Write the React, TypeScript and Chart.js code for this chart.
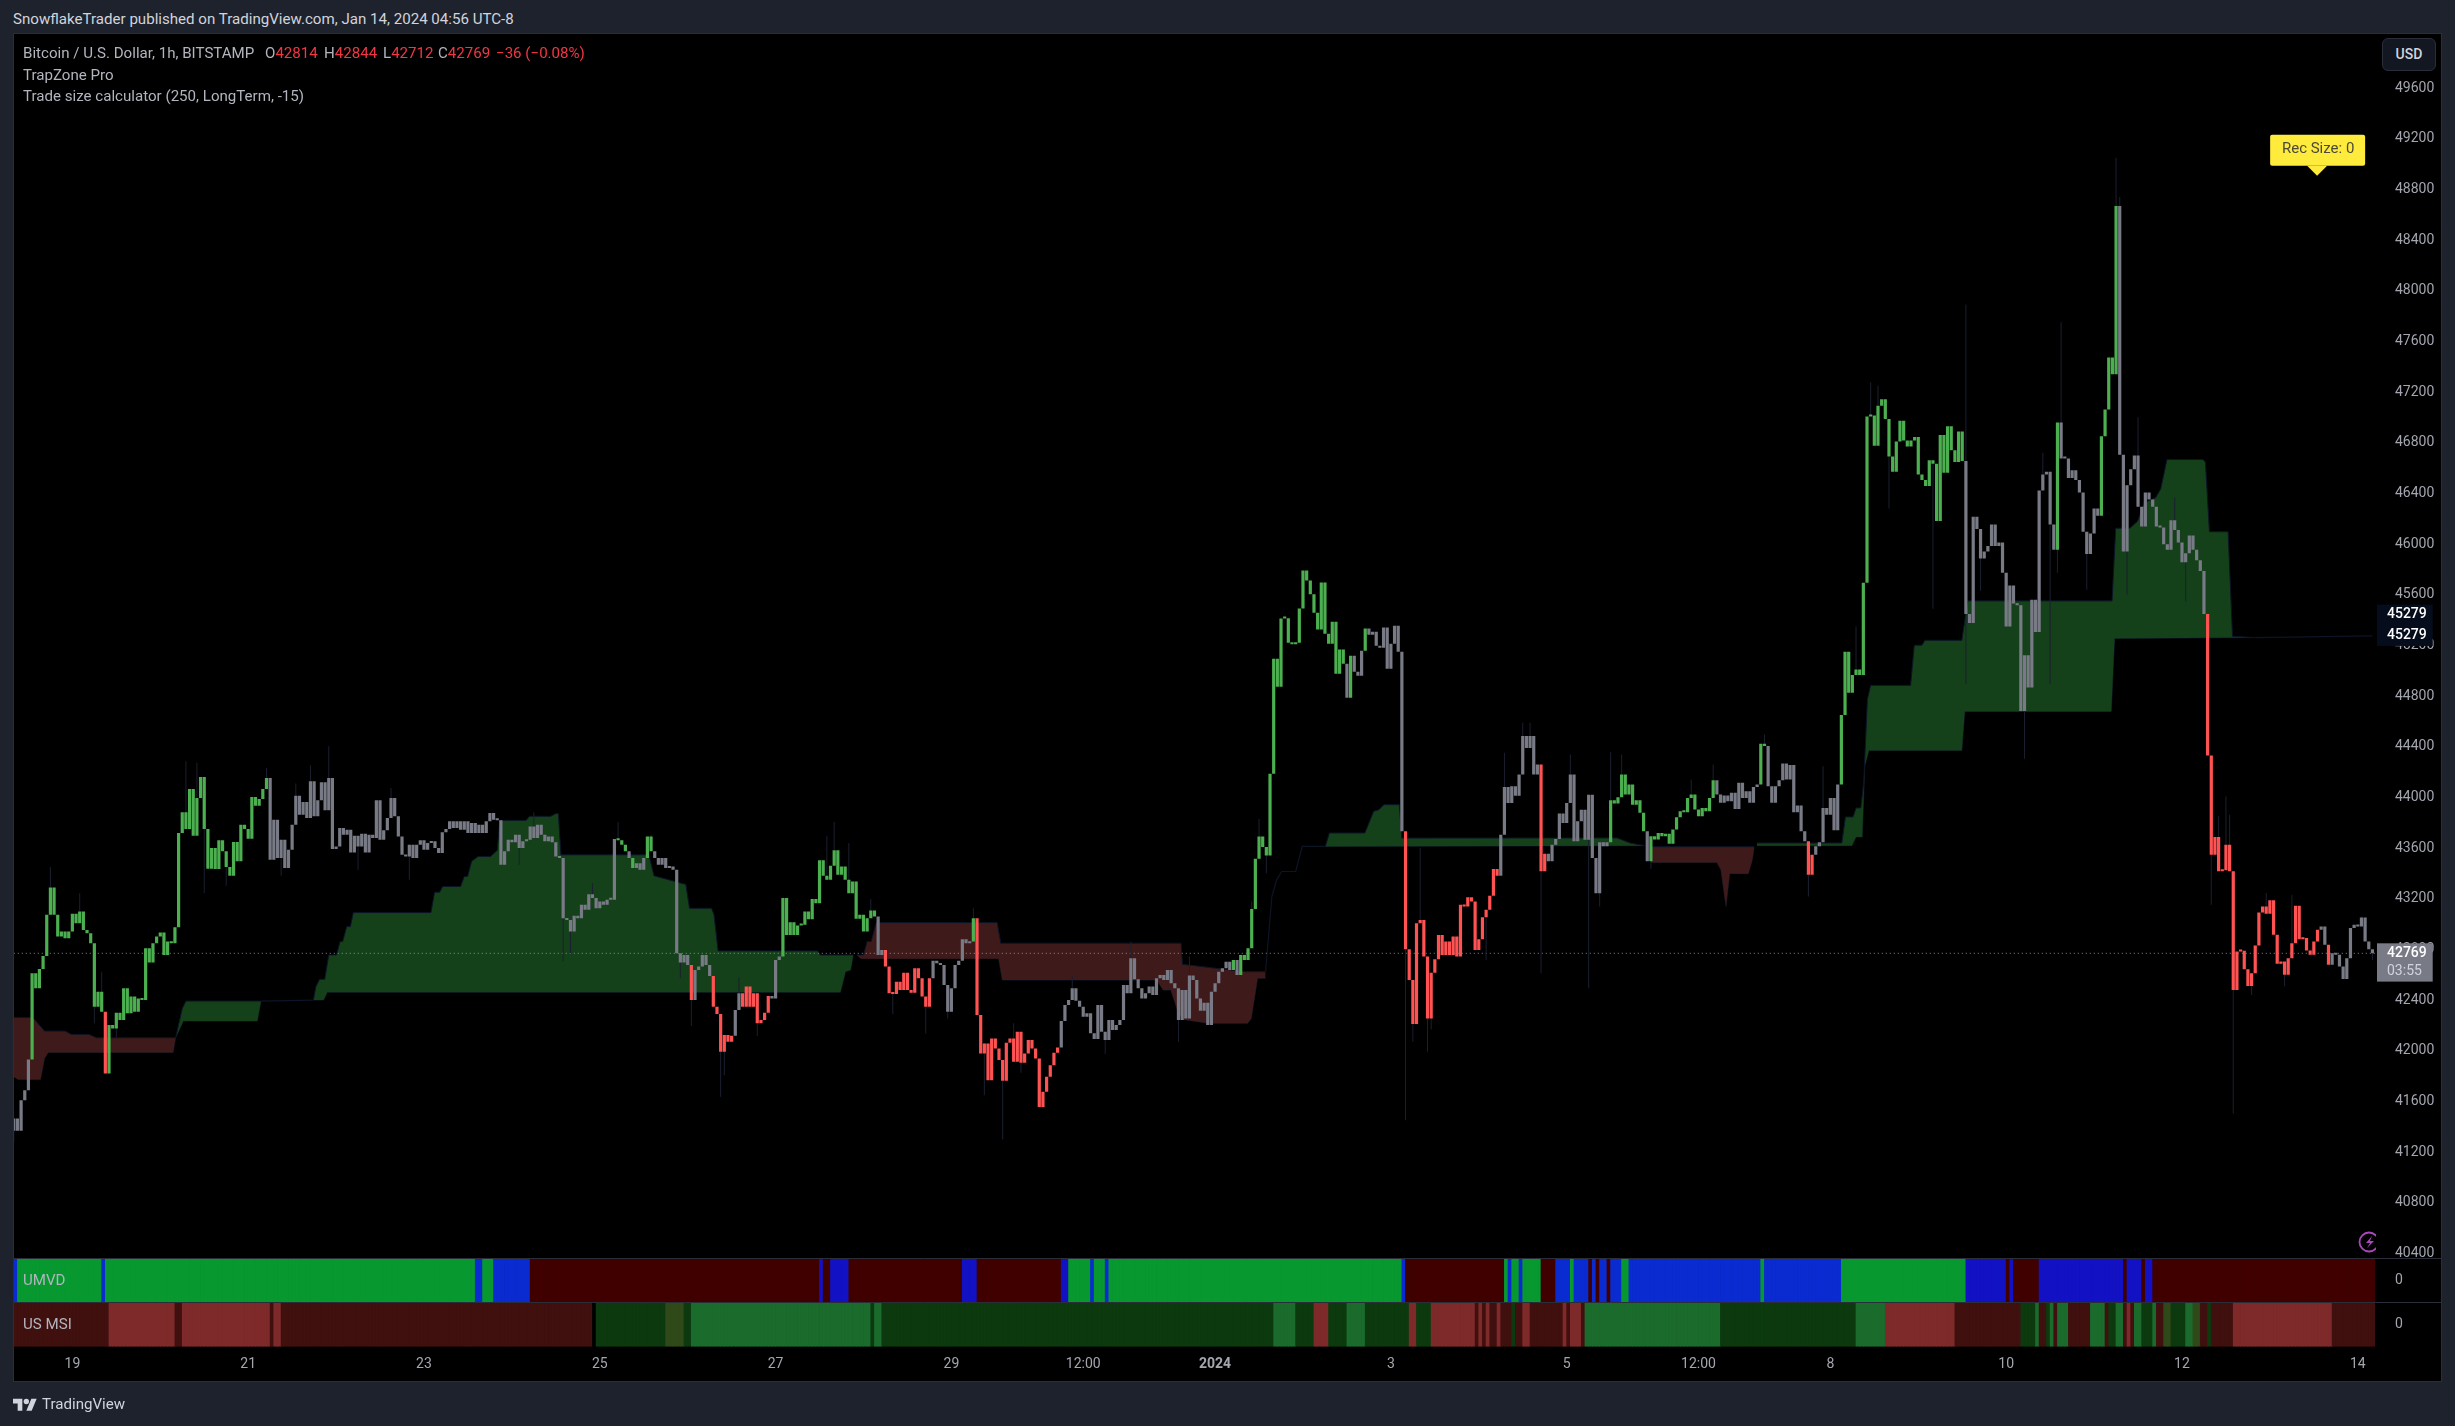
import React, { useEffect, useRef } from "react";
import { Chart, registerables } from "chart.js";

Chart.register(...registerables);

const FONT = "Roboto, 'Liberation Sans', sans-serif";

// Hours counted from 19 Dec 00:00. The first visible candle sits at hour -16.
const firstHour = -16;
const firstOpen = 41367;

const closes = [
  41464,41367,41609,41688,41931,42611,42493,42646,42748,43073,
  43289,43073,42901,42941,42888,42941,43081,43007,43099,42954,
  42928,42849,42347,42466,42308,41820,42203,42176,42300,42242,
  42493,42295,42427,42308,42413,42400,42809,42696,42849,42901,
  42933,42756,42862,42849,42975,43719,43882,43750,44067,43698,
  43996,44162,43750,43437,43600,43434,43661,43574,43450,43381,
  43648,43495,43785,43750,43674,44004,43935,43988,44067,44154,
  43508,43824,43521,43666,43442,43587,43785,44014,43864,43964,
  43837,44128,43851,43977,44120,43898,44154,43592,43613,43758,
  43706,43745,43566,43698,43613,43714,43566,43706,43679,43977,
  43666,43740,43837,43996,43851,43692,43547,43534,43626,43521,
  43626,43661,43587,43640,43653,43600,43561,43724,43750,43811,
  43758,43811,43745,43811,43719,43798,43719,43785,43719,43811,
  43877,43824,43819,43468,43574,43666,43645,43706,43600,43653,
  43666,43771,43679,43785,43706,43653,43692,43645,43534,43521,
  43046,43033,42941,43065,43046,43152,43112,43236,43205,43125,
  43178,43152,43191,43191,43671,43661,43626,43574,43521,43442,
  43481,43429,43521,43692,43574,43521,43468,43521,43442,43455,
  43429,42769,42696,42756,42677,42400,42638,42664,42756,42677,
  42590,42347,42289,41992,42123,42071,42118,42321,42453,42347,
  42506,42347,42453,42216,42242,42300,42432,42413,42717,42743,
  43205,42914,43015,42914,42988,42994,43099,43038,43197,43165,
  43503,43381,43350,43460,43582,43389,43455,43350,43244,43336,
  43041,43073,42941,43046,43107,43060,42756,42796,42664,42453,
  42448,42545,42479,42616,42479,42458,42651,42572,42427,42347,
  42572,42711,42690,42677,42519,42308,42493,42677,42711,42880,
  42849,42862,43046,42282,41978,42057,41767,42097,42018,41926,
  41762,42063,42097,41912,42150,41905,41978,42084,42018,41939,
  41556,41675,41794,41886,41984,42026,42234,42361,42400,42493,
  42395,42347,42268,42295,42137,42092,42361,42150,42084,42242,
  42163,42203,42242,42519,42453,42730,42564,42493,42413,42453,
  42506,42440,42572,42598,42558,42638,42532,42493,42242,42479,
  42255,42593,42558,42413,42316,42379,42203,42466,42532,42624,
  42651,42703,42638,42717,42598,42756,42717,42809,43118,43516,
  43692,43608,43542,44186,45095,44874,45412,45415,45222,45209,
  45222,45491,45792,45712,45604,45459,45325,45697,45293,45214,
  45388,44977,45167,45056,44787,45119,44993,44961,45159,45333,
  45285,45309,45198,45182,45341,45016,45214,45356,45151,43732,
  42801,42558,42210,43007,43033,42743,42255,42616,42722,42914,
  42756,42862,42756,42901,42743,43152,43139,43212,43178,42796,
  42880,43054,43112,43223,43434,43381,43706,44083,43956,44088,
  44014,44180,44484,44391,44484,44180,44259,43416,43555,43495,
  43626,43671,43872,43798,43956,44180,43653,43811,43903,43666,
  44022,43521,43244,43645,43614,43645,43978,43951,44001,44181,
  44023,44102,43943,43978,43878,43733,43495,43693,43667,43719,
  43693,43714,43635,43746,43843,43891,43883,43996,44023,43904,
  43851,43917,43891,43996,44136,44023,43957,44015,43970,44036,
  43909,44115,43996,44049,43957,44083,44102,44423,44405,44089,
  43957,44089,44136,44268,44141,44255,43883,43936,43733,43653,
  43390,43548,43614,43645,43917,43864,43996,43740,44102,44650,
  45151,44826,44967,45010,44967,45696,47008,47016,46776,47092,
  47143,46988,46691,46572,46810,46974,46818,46770,46818,46846,
  46550,46507,46459,46663,46635,46182,46861,46564,46931,46742,
  46649,46889,46657,45448,45377,46216,46120,45886,45942,45985,
  46154,45985,46013,45773,45349,45674,45532,45518,44682,45122,
  44868,45561,45306,46423,46550,46572,46154,45956,46960,46677,
  46677,46522,46584,46507,46408,46098,45922,46083,46281,46225,
  46852,47064,47474,47341,48669,46705,45942,46465,46592,46700,
  46295,46140,46408,46352,46295,46140,46132,45999,45956,46188,
  46112,46013,45857,45928,46069,45956,45872,45787,45448,44331,
  43548,43688,43416,43424,43627,43416,42480,42783,42790,42643,
  42511,42612,42831,43092,43139,43081,43187,42915,42686,42704,
  42599,42730,42849,43144,42881,42889,42791,42757,42862,42955,
  42981,42836,42678,42770,42757,42664,42567,42730,42968,42994,
  42981,43052,42862,42802,42769,
];

// candle colour state: n neutral, g green, r red
const candleRuns: [string, number][] = [
  ["n",5],["g",20],["r",1],["g",44],["n",95],["g",3],["n",1],["g",1],["n",3],["g",2],
  ["n",10],["r",1],["n",5],["r",6],["n",2],["r",8],["n",3],["g",26],["n",2],["r",13],
  ["n",11],["g",1],["r",23],["n",47],["g",1],["n",1],["g",29],["n",1],["g",1],["n",3],
  ["g",1],["n",10],["r",26],["n",11],["r",2],["n",17],["g",10],["n",1],["g",18],["n",12],
  ["g",2],["n",11],["r",2],["n",7],["g",34],["n",25],["g",1],["n",11],["g",5],["n",24],
  ["r",31],["n",2],["r",1],["n",12],
];

// wicks: candle number and the price its shadow reaches
const wickBars = [
  10,47,50,52,58,69,73,77,81,86,94,103,108,138,142,150,152,158,165,174,182,185,193,194,198,203,0,4,28,18,22,24,
  224,222,228,234,240,249,255,262,265,270,273,275,289,298,305,318,321,338,340,342,380,384,382,386,387,402,412,414,407,417,425,430,433,
  533,533,559,574,575,524,507,509,512,556,554,580,590,593,577,566,558,537,503,
  436,439,478,447,490,494,464,458,549,606,604,602,600,605,622,615,620,611,641,644,
];
const wickEnds = [
  43450,44286,44273,43244,43302,44233,43381,44109,44254,44404,43429,44075,43350,43468,43882,42704,42769,43323,43806,43706,42572,42195,41636,41807,42580,42116,41280,41701,42105,43244,42216,42624,
  43806,43698,43640,43197,42289,42136,42255,43125,41649,41298,42216,41825,42593,41973,42862,42071,42743,43178,43830,43402,41451,43600,42071,41991,42168,42717,44589,44589,44352,42611,44338,42493,43139,
  47892,44897,47751,49051,48740,45490,47279,47248,46281,44897,46719,47002,46366,45547,45603,45640,45773,45631,45349,
  44357,44339,44497,43435,43218,44247,44260,44141,44305,41504,44009,43851,43152,43864,43231,43245,42506,42440,43060,42717,
];

// TrapZone bands
const redOneTopHours = [-16,-10.8,-7.6,-2,-0.3,4.5,6.6,28.2];
const redOneTopPrices = [42263,42263,42155,42155,42129,42129,42102,42102];
const redOneBotHours = [-16,-14.8,-8.7,-7.6,-6.6,27.5,28.2];
const redOneBotPrices = [41794,41773,41773,41939,41986,41986,42102];

const greenOneTopHours = [28.2,30,31,51.5];
const greenOneTopPrices = [42102,42334,42392,42392];
const greenOneBotHours = [28.2,30.3,50.5,51.5];
const greenOneBotPrices = [42102,42234,42234,42392];

const greenTwoTopHours = [65.8,66.5,67.5,68.9,70,72.1,73.1,73.8,74.9,75.9,76.7,97.9,98.9,100.3,101.1,106,107,107.9,109,110.8,114.2,116,116.7,123.9,124.8,130.6,132,132.7,133.4,157.4,158.8,167.5,168.5,174.5,175.2,176.3,203.5,204.2,213.2];
const greenTwoTopPrices = [42400,42506,42564,42564,42756,42756,42862,42862,42980,42980,43091,43091,43252,43252,43297,43297,43376,43376,43495,43534,43534,43582,43819,43819,43851,43851,43872,43872,43547,43547,43381,43313,43125,43125,43073,42788,42788,42756,42756];
const greenTwoBotHours = [65.8,68.6,69.6,209.7,211.1,212.5,213.2];
const greenTwoBotPrices = [42400,42400,42461,42461,42624,42637,42756];

const redTwoTopHours = [214.2,216,217,218.1,219.5,252.5,253.5,302.7,303.1,320.2,325.8];
const redTwoTopPrices = [42756,42756,42862,42862,43012,43012,42849,42849,42682,42624,42624];
const redTwoBotHours = [214.2,215.3,252.9,253.9,296.1,297.8,299.9,301.7,303.1,307.3,310,320.9,321.9,323.6,325.8];
const redTwoBotPrices = [42756,42727,42727,42558,42558,42479,42479,42321,42247,42229,42216,42216,42255,42572,42572];

const greenThreeTopHours = [342.1,343.2,352.9,355.3,356.7,358.1,362.3,363,421.8,425.3,429.2];
const greenThreeTopPrices = [43613,43719,43719,43890,43903,43943,43943,43679,43680,43640,43619];
const greenThreeBotHours = [342.1,429.2];
const greenThreeBotPrices = [43613,43619];

const redThreeTopHours = [430.9,459.2];
const redThreeTopPrices = [43611,43611];
const redThreeBotHours = [430.9,449,450.1,451.5,452.5,457.6,458.7,459.2];
const redThreeBotPrices = [43487,43487,43429,43139,43398,43398,43508,43611];

const greenFourTopHours = [459.9,483.1,483.5,484.1,486.2,487,488.3,489.1,490.1,491,501.9,502.9,505,505.8,515.9,517.5,556.9,557.9,561.8,563.9,565.7,568.8,570.2,571.9,581.7,582.4,583.5,588.6,589.8,595.9];
const greenFourTopPrices = [43640,43640,43719,43846,43846,43917,43917,44115,44774,44885,44885,45202,45202,45241,45241,45552,45552,46126,46126,46182,46329,46366,46437,46668,46668,46649,46098,46098,45272,45262];
const greenFourBotHours = [459.9,485.9,487,488.7,489.4,490.5,515.9,516.7,556.7,557.6,595.9];
const greenFourBotPrices = [43619,43619,43688,43688,44247,44371,44371,44679,44679,45255,45262];

// thin navy traces where a band has collapsed to a line
const traceOneHours = [51.5,65.8];
const traceOnePrices = [42392,42400];
const traceTwoHours = [325.8,327.5,328.8,330.2,334,335.8,342.1];
const traceTwoPrices = [42624,43217,43349,43415,43415,43613,43613];
const traceThreeHours = [595.9,628];
const traceThreePrices = [45262,45275];

const lastPrice = 42769;
const trapLevel = 45279;
const recSizeHour = 612.9;
const recSizePrice = 48909;

const priceTicks = [40400,40800,41200,41600,42000,42400,42800,43200,43600,44000,44400,44800,45200,45600,46000,46400,46800,47200,47600,48000,48400,48800,49200,49600];
const timeTickHours = [0,48,96,144,192,240,276,312,360,408,444,480,528,576,624];
const timeTickLabels = ["19","21","23","25","27","29","12:00","2024","3","5","12:00","8","10","12","14"];

// UMVD strip: g green, b blue, B deep blue, d dark red
const umvdRuns: [string, number][] = [
  ["b",1],["g",23],["b",1],["g",101],["b",2],["g",3],["b",10],["d",79],["B",1],["d",2],["B",5],["d",31],["B",4],["d",23],["B",2],
  ["g",6],["b",1],["g",3],["b",1],["g",80],["b",1],["d",27],["g",1],["b",1],["g",2],["b",1],["g",5],["d",4],["b",4],["g",1],["b",4],
  ["d",1],["b",1],["d",1],["b",2],["d",1],["b",3],["g",2],["b",36],["g",1],["b",21],["g",34],["B",11],["d",1],["B",1],["d",7],["B",23],
  ["d",1],["B",4],["d",1],["B",2],["d",62],
];
// US MSI strip: r dark red, L light red, k black, D dark green, M mid green, o olive
const msiRuns: [string, number][] = [
  ["r",26],["L",18],["r",2],["L",24],["r",1],["L",2],["r",85],["k",1],["D",19],["o",5],["D",2],["M",49],["D",1],["M",2],["D",107],["M",6],
  ["D",5],["L",4],["D",5],["M",5],["D",12],["L",2],["D",4],["L",12],["r",1],["L",1],["r",1],["L",1],["r",2],["L",1],["r",3],["D",1],["r",2],
  ["L",2],["r",9],["L",1],["r",1],["L",3],["r",1],["M",37],["D",37],["M",8],["L",19],["r",18],["D",4],["M",1],["r",2],["D",1],["M",1],["r",1],
  ["M",3],["r",6],["M",4],["r",1],["D",2],["M",2],["r",1],["L",1],["r",1],["M",2],["D",3],["M",1],["r",2],["o",2],["D",4],["M",2],["o",2],
  ["r",2],["D",1],["r",6],["L",27],["r",14],
];

const candleColors: Record<string, string> = { n: "#787b86", g: "#4caf50", r: "#ff5252" };
const umvdColors: Record<string, string> = { g: "#089830", b: "#0a2bd0", B: "#1212c4", d: "#400000" };
const msiColors: Record<string, string> = { r: "#40100e", L: "#7f2a2a", k: "#000000", D: "#0c3a0e", M: "#1a6b2c", o: "#2f4a18" };

const GREEN_BAND = "#14401a";
const RED_BAND = "#3f1a1a";
const TRACE = "#0c1426";

const expand = (runs: [string, number][]) => runs.flatMap(([s, n]) => Array(n).fill(s) as string[]);
const pts = (xs: number[], ys: number[]) => xs.map((x, i) => ({ x, y: ys[i] }));

const bands = [
  { c: RED_BAND, t: pts(redOneTopHours, redOneTopPrices), b: pts(redOneBotHours, redOneBotPrices) },
  { c: GREEN_BAND, t: pts(greenOneTopHours, greenOneTopPrices), b: pts(greenOneBotHours, greenOneBotPrices) },
  { c: GREEN_BAND, t: pts(greenTwoTopHours, greenTwoTopPrices), b: pts(greenTwoBotHours, greenTwoBotPrices) },
  { c: RED_BAND, t: pts(redTwoTopHours, redTwoTopPrices), b: pts(redTwoBotHours, redTwoBotPrices) },
  { c: GREEN_BAND, t: pts(greenThreeTopHours, greenThreeTopPrices), b: pts(greenThreeBotHours, greenThreeBotPrices) },
  { c: RED_BAND, t: pts(redThreeTopHours, redThreeTopPrices), b: pts(redThreeBotHours, redThreeBotPrices) },
  { c: GREEN_BAND, t: pts(greenFourTopHours, greenFourTopPrices), b: pts(greenFourBotHours, greenFourBotPrices) },
];

function buildDatasets() {
  const sets: any[] = [];
  bands.forEach((band, i) => {
    const base = { type: "line", xAxisID: "x", yAxisID: "price", pointRadius: 0, borderWidth: 1, borderColor: TRACE, tension: 0, order: 5 };
    sets.push({ ...base, data: band.t, fill: { target: i * 2 + 1, above: band.c, below: band.c } });
    sets.push({ ...base, data: band.b, fill: false });
  });
  [pts(traceOneHours, traceOnePrices), pts(traceTwoHours, traceTwoPrices), pts(traceThreeHours, traceThreePrices)].forEach((data) => {
    sets.push({ type: "line", xAxisID: "x", yAxisID: "price", pointRadius: 0, borderWidth: 1.2, borderColor: TRACE, tension: 0, order: 4, data, fill: false });
  });
  sets.push({
    type: "line", xAxisID: "x", yAxisID: "price", pointRadius: 0, borderWidth: 1, order: 3, fill: false,
    borderColor: "rgba(178,181,190,0.75)", borderDash: [1, 3],
    data: [{ x: firstHour, y: lastPrice }, { x: 640, y: lastPrice }],
  });
  sets.push({
    type: "bar", xAxisID: "x", yAxisID: "price", grouped: false, order: 2, barPercentage: 5, maxBarThickness: 1,
    backgroundColor: "#1b2030",
    data: wickBars.map((k, i) => ({ x: firstHour + k, y: [closes[k], wickEnds[i]] })),
  });
  const states = expand(candleRuns);
  sets.push({
    type: "bar", xAxisID: "x", yAxisID: "price", grouped: false, order: 1, barPercentage: 5, maxBarThickness: 3.2, minBarLength: 2,
    backgroundColor: states.map((s) => candleColors[s]),
    data: closes.map((c, i) => ({ x: firstHour + i, y: [i ? closes[i - 1] : firstOpen, c] })),
  });
  const strip = (runs: [string, number][], colors: Record<string, string>, axis: string) => {
    const st = expand(runs);
    sets.push({
      type: "bar", xAxisID: "x", yAxisID: axis, grouped: false, order: 1, barPercentage: 5, maxBarThickness: 4.4,
      backgroundColor: st.map((s) => colors[s]),
      data: st.map((_, i) => ({ x: firstHour + 0.5 + i, y: [-1, 1] })),
    });
  };
  strip(umvdRuns, umvdColors, "umvd");
  strip(msiRuns, msiColors, "msi");
  return sets;
}

const panelPlugin = {
  id: "panelPlugin",
  afterDraw(chart: any) {
    const { ctx, scales, chartArea } = chart;
    const price = scales.price;
    const right = chartArea.right;
    const textX = right + 12;
    ctx.save();
    // pane separators
    ctx.strokeStyle = "#2a2e39";
    ctx.lineWidth = 1;
    [scales.umvd.top, scales.msi.top].forEach((y: number) => {
      ctx.beginPath();
      ctx.moveTo(0, Math.round(y) + 0.5);
      ctx.lineTo(chart.width, Math.round(y) + 0.5);
      ctx.stroke();
    });
    ctx.textBaseline = "middle";
    ctx.textAlign = "left";
    // band level tags
    const lvl = price.getPixelForValue(trapLevel);
    ctx.fillStyle = "#050c1c";
    ctx.fillRect(right + 2, lvl - 30.8, 55.7, 41.3);
    ctx.fillStyle = "#ffffff";
    ctx.font = `500 14px ${FONT}`;
    ctx.fillText(String(trapLevel), textX, lvl - 21);
    ctx.fillText(String(trapLevel), textX, lvl);
    // last price tag
    const last = price.getPixelForValue(lastPrice);
    ctx.fillStyle = "#787b86";
    ctx.fillRect(right + 2, last - 10, 55.7, 38.3);
    ctx.fillStyle = "#ffffff";
    ctx.fillText(String(lastPrice), textX, last);
    ctx.fillStyle = "#d1d4dc";
    ctx.font = `14px ${FONT}`;
    ctx.fillText("03:55", textX, last + 18);
    // Rec Size callout
    const tipX = scales.x.getPixelForValue(recSizeHour);
    const tipY = price.getPixelForValue(recSizePrice);
    ctx.fillStyle = "#ffeb3b";
    ctx.beginPath();
    ctx.roundRect(tipX - 47, tipY - 41, 95, 31, 2);
    ctx.fill();
    ctx.beginPath();
    ctx.moveTo(tipX - 10, tipY - 10);
    ctx.lineTo(tipX, tipY);
    ctx.lineTo(tipX + 10, tipY - 10);
    ctx.closePath();
    ctx.fill();
    ctx.fillStyle = "#4a4a3a";
    ctx.textAlign = "center";
    ctx.font = `15px ${FONT}`;
    ctx.fillText("Rec Size: 0", tipX + 1, tipY - 26);
    ctx.restore();
  },
};

const absText = (left: number, top: number, color: string): React.CSSProperties => ({
  position: "absolute", left, top, color, font: `15.1px ${FONT}`, lineHeight: "18px", whiteSpace: "nowrap",
});

const LEGEND = "#b2b5be";
const RED = "#f23645";

export default function App() {
  const ref = useRef<HTMLCanvasElement>(null);
  useEffect(() => {
    const yCommon = { position: "right", stack: "panes", border: { display: false }, grid: { display: false }, afterFit: (s: any) => { s.width = 67; } };
    const plainTick = (v: any) => String(v);
    const zeroTicks = {
      ...yCommon, min: -1, max: 1,
      afterBuildTicks: (s: any) => { s.ticks = [{ value: 0 }]; },
      ticks: { color: "#a3a6af", font: { family: FONT, size: 14 }, padding: 12, crossAlign: "near", callback: plainTick },
    };
    const chart = new Chart(ref.current as HTMLCanvasElement, {
      type: "bar",
      data: { datasets: buildDatasets() },
      options: {
        animation: false,
        responsive: false,
        devicePixelRatio: 1,
        layout: { padding: 0, autoPadding: false },
        plugins: { legend: { display: false }, tooltip: { enabled: false } },
        scales: {
          x: {
            type: "linear", position: "bottom", min: -15.94, max: 628.7, offset: false,
            border: { display: false }, grid: { display: false, offset: false },
            afterBuildTicks: (s: any) => { s.ticks = timeTickHours.map((value) => ({ value })); },
            afterFit: (s: any) => { s.height = 34.3; },
            ticks: {
              autoSkip: false, maxRotation: 0, padding: 1, color: "#a3a6af",
              callback: (_: any, i: number) => timeTickLabels[i],
              font: (c: any) => ({ family: FONT, size: 14, weight: timeTickLabels[c.index] === "2024" ? "bold" : "normal" }),
            },
          },
          price: {
            ...yCommon, type: "linear", min: 40360, max: 50017, stackWeight: 1224.3,
            afterBuildTicks: (s: any) => { s.ticks = priceTicks.map((value) => ({ value })); },
            ticks: { color: "#a3a6af", font: { family: FONT, size: 14 }, padding: 12, crossAlign: "near", callback: plainTick },
          },
          umvd: { ...zeroTicks, type: "linear", stackWeight: 43.8 },
          msi: { ...zeroTicks, type: "linear", stackWeight: 44.6 },
        },
      } as any,
      plugins: [panelPlugin],
    } as any);
    return () => chart.destroy();
  }, []);

  return (
    <div style={{ position: "fixed", left: 0, top: 0, width: 2455, height: 1426, background: "#1e222d", overflow: "hidden" }}>
      <div style={absText(13, 10, "#d1d4dc")}>SnowflakeTrader published on TradingView.com, Jan 14, 2024 04:56 UTC-8</div>
      <div style={{ position: "absolute", left: 13, top: 33, width: 2429, height: 1349, background: "#000", boxSizing: "border-box", border: "1px solid #2a2e39" }} />
      <canvas ref={ref} width={2428} height={1366} style={{ position: "absolute", left: 14, top: 15, width: 2428, height: 1366, clipPath: "inset(19px 0 0 0)" }} />

      <div style={absText(23, 44, LEGEND)}>Bitcoin / U.S. Dollar, 1h, BITSTAMP</div>
      <div style={absText(265, 44, LEGEND)}>O<span style={{ color: RED }}>42814</span></div>
      <div style={absText(324, 44, LEGEND)}>H<span style={{ color: RED }}>42844</span></div>
      <div style={absText(383, 44, LEGEND)}>L<span style={{ color: RED }}>42712</span></div>
      <div style={absText(438, 44, LEGEND)}>C<span style={{ color: RED }}>42769</span></div>
      <div style={absText(496, 44, RED)}>−36 (−0.08%)</div>
      <div style={absText(23, 66, LEGEND)}>TrapZone Pro</div>
      <div style={absText(23, 87, LEGEND)}>Trade size calculator (250, LongTerm, -15)</div>

      <div style={{ position: "absolute", left: 2382, top: 38, width: 54, height: 33, boxSizing: "border-box", background: "#131722", border: "1px solid #2a2e39", borderRadius: 6, color: "#d1d4dc", font: `500 14px ${FONT}`, lineHeight: "31px", textAlign: "center" }}>USD</div>

      <div style={absText(23, 1271, "#b2b5be")}>UMVD</div>
      <div style={absText(23, 1315, "#b2b5be")}>US MSI</div>

      <div style={{ position: "absolute", left: 2357, top: 1229, width: 19, height: 26, overflow: "hidden" }}>
        <svg width="26" height="26" viewBox="0 0 26 26">
          <circle cx="12" cy="13" r="9.5" fill="none" stroke="#ab47bc" strokeWidth="1.8" />
          <path d="M15 7 L9 14 L13 14 L10 19 L17 12 L13 12 Z" fill="#ab47bc" />
        </svg>
      </div>

      <svg style={{ position: "absolute", left: 13, top: 1396 }} width="24" height="19" viewBox="0 0 36 28">
        <path d="M14 22H7V11H0V4h14v18zM28 22h-8l7.5-18h8L28 22z" fill="#d1d4dc" />
        <circle cx="20" cy="8" r="4" fill="#d1d4dc" />
      </svg>
      <div style={absText(42, 1395, "#d1d4dc")}>TradingView</div>
    </div>
  );
}
